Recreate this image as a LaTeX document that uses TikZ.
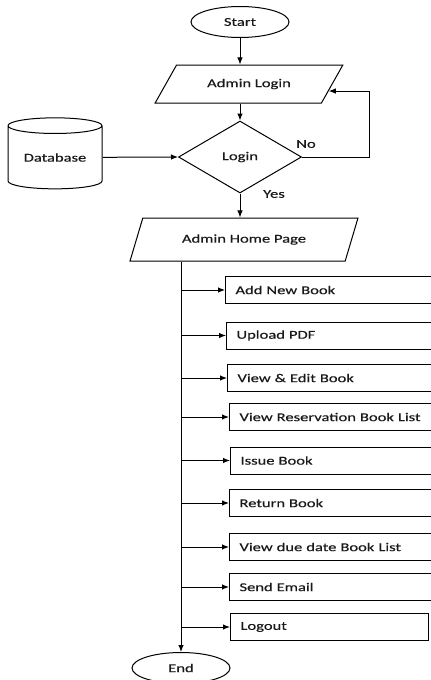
\documentclass[tikz,border=0pt]{standalone}
\usepackage{fontspec}
\setmainfont[FakeStretch=1.38,FakeBold=0.4]{Carlito}
\usetikzlibrary{arrows.meta,shapes.geometric,calc}
\tikzset{
  flow/.style={draw=black,line width=1pt,font=\fontsize{12}{14}\selectfont,text=black!90},
  term/.style={flow,ellipse,minimum width=98pt,minimum height=31pt,inner sep=0pt},
  io/.style={flow,trapezium,trapezium stretches=true,inner sep=0pt},
  decision/.style={flow,diamond,minimum width=123pt,minimum height=72pt,inner sep=0pt},
  store/.style={flow,cylinder,shape border rotate=90,aspect=0.25,
    minimum width=94pt,minimum height=71pt,inner sep=0pt},
  task/.style={flow,rectangle,anchor=west,minimum height=27pt,text width=190pt,
    inner xsep=10pt,align=left},
  arr/.style={-{Latex[length=7pt,width=5.5pt]},line width=1pt},
  tag/.style={font=\fontsize{12}{14}\selectfont,text=black!90}
}
\begin{document}
\begin{tikzpicture}[x=1pt,y=-1pt]
  \useasboundingbox (0,0) rectangle (431,680);

  \node[term] (start) at (240,22) {Start};
  \node[io,trapezium left angle=40,trapezium right angle=140,
    minimum width=188pt,minimum height=38pt] (alogin) at (249,84) {Admin Login};
  \node[decision] (login) at (240,157) {Login};
  \node[store] (db) at (55,157.5) {Database};
  \node[io,trapezium left angle=53,trapezium right angle=127,
    minimum width=228pt,minimum height=43pt] (ahome) at (244,239.5) {Admin Home Page};
  \coordinate (fbk) at ($(alogin.bottom right corner)!0.32!(alogin.top right corner)$);

  \draw[arr] (start) -- (start |- alogin.north);
  \draw[arr] (alogin.south -| login) -- (login.north);
  \draw[arr] (db) -- (login.west);
  \draw[arr] (login.east) -- ++(67,0) |- (fbk);
  \draw[arr] (login.south) -- (login.south |- ahome.north);
  \node[tag] (no) at (306,144) {No};
  \node[tag] (yes) at (274,194) {Yes};

  \node[task] (addbook) at (225,290) {Add New Book};
  \node[task] (upload) at (226,335.5) {Upload PDF};
  \node[task] (editbook) at (227,378) {View \& Edit Book};
  \node[task] (reserve) at (229,417) {View Reservation Book List};
  \node[task] (issue) at (230,460.5) {Issue Book};
  \node[task] (return) at (229,503) {Return Book};
  \node[task] (duedate) at (229,547) {View due date Book List};
  \node[task] (email) at (229,587) {Send Email};
  \node[task,text width=178pt] (logout) at (230,627) {Logout};

  \node[term] (end) at (181,668) {End};
  \coordinate (trunk) at (end |- ahome.south);
  \draw[arr] (trunk) -- (end);
  \draw[arr] (trunk |- addbook) -- (addbook.west);
  \draw[arr] (trunk |- upload) -- (upload.west);
  \draw[arr] (trunk |- editbook) -- (editbook.west);
  \draw[arr] (trunk |- reserve) -- (reserve.west);
  \draw[arr] (trunk |- issue) -- (issue.west);
  \draw[arr] (trunk |- return) -- (return.west);
  \draw[arr] (trunk |- duedate) -- (duedate.west);
  \draw[arr] (trunk |- email) -- (email.west);
  \draw[arr] (trunk |- logout) -- (logout.west);
\end{tikzpicture}
\end{document}
